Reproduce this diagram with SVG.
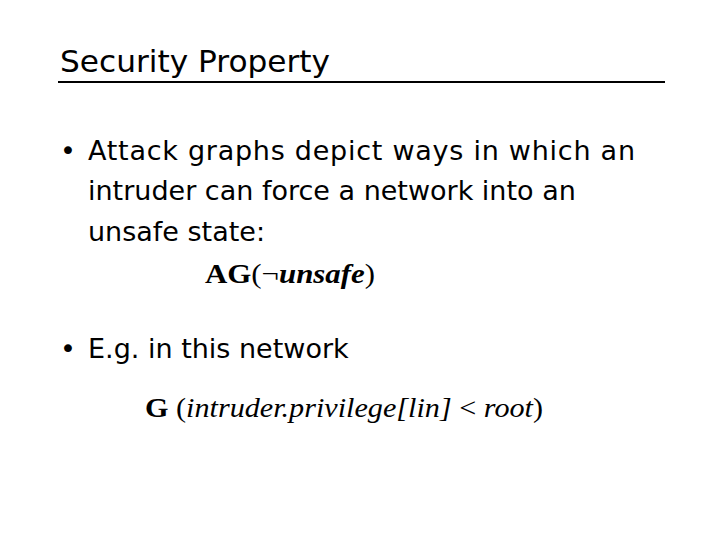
<svg xmlns="http://www.w3.org/2000/svg" width="720" height="540" viewBox="0 0 720 540">
<style>
.t{font-family:"DejaVu Sans",Verdana,sans-serif;fill:#000}
.m{font-family:"Liberation Serif","Times New Roman",serif;fill:#000;font-size:28px}
</style>
<rect width="720" height="540" fill="#fff"/>
<text class="t" x="60" y="72" font-size="30" textLength="270" lengthAdjust="spacingAndGlyphs">Security Property</text>
<line x1="58" y1="82" x2="665" y2="82" stroke="#000" stroke-width="2"/>
<text class="t" x="60" y="160" font-size="27">•</text>
<text class="t" x="88" y="160" font-size="27" textLength="547">Attack graphs depict ways in which an</text>
<text class="t" x="88" y="200" font-size="27">intruder can force a network into an</text>
<text class="t" x="88" y="241" font-size="27">unsafe state:</text>
<text class="m" x="205" y="283" textLength="170" lengthAdjust="spacingAndGlyphs"><tspan font-weight="bold">AG</tspan>(¬<tspan font-style="italic" font-weight="bold">unsafe</tspan>)</text>
<text class="t" x="60" y="358" font-size="27">•</text>
<text class="t" x="88" y="358" font-size="27">E.g. in this network</text>
<text class="m" x="145" y="417" textLength="398" lengthAdjust="spacingAndGlyphs"><tspan font-weight="bold">G</tspan> (<tspan font-style="italic">intruder.privilege[lin]</tspan> &lt; <tspan font-style="italic">root</tspan>)</text>
</svg>
